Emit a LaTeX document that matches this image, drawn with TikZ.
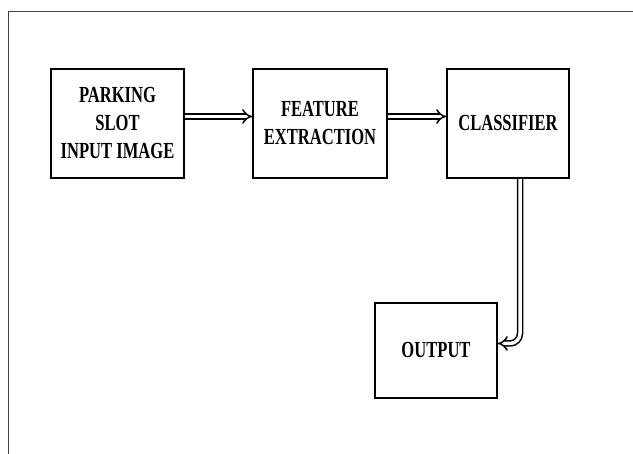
\documentclass[tikz,border=0pt]{standalone}
\usepackage{fontspec}
\setmainfont{Liberation Serif}[FakeStretch=0.72]
\usetikzlibrary{arrows.meta}

\begin{document}
\begin{tikzpicture}
  [x=1pt,y=-1pt,
   blockN/.style={rectangle,draw,line width=1.7pt,minimum height=109pt,
     align=center,inner sep=0pt,font=\fontsize{23}{28}\selectfont\bfseries},
   dblArrow/.style={double,double distance=3.5pt,line width=1.5pt,-{Implies}}]

  \useasboundingbox (0,0) rectangle (633,454);
  \draw [line width=1pt,black!75] (8,454) -- (8,12) -- (633,12);

  \node[blockN,minimum width=133pt] (input)   at (117.5,123.5) {PARKING\\SLOT\\INPUT IMAGE};
  \node[blockN,minimum width=134pt] (feature) at (320,123.5)   {FEATURE\\EXTRACTION};
  \node[blockN,minimum width=122pt] (cls)     at (508,123.5)   {CLASSIFIER};
  \node[blockN,minimum width=122pt,minimum height=95pt] (out) at (436,350.5) {OUTPUT};

  \draw [dblArrow] ([yshift=7pt]input.east) -- ([yshift=7pt]feature.west);
  \draw [dblArrow] ([yshift=7pt]feature.east) -- ([yshift=7pt]cls.west);
  \draw [dblArrow,rounded corners=10pt] ([xshift=12pt]cls.south) |- ([yshift=7pt]out.east);

\end{tikzpicture}
\end{document}
